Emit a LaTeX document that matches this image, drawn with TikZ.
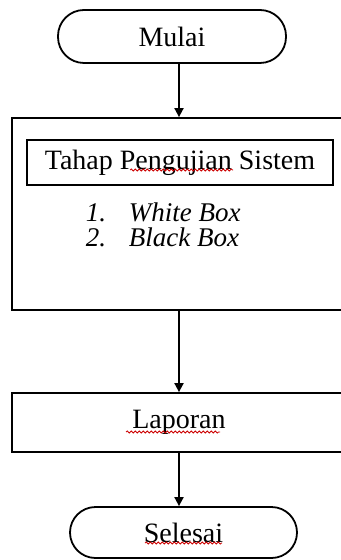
\documentclass[tikz,border=0pt]{standalone}
\usepackage{fontspec}
\setmainfont{Liberation Serif}
\usetikzlibrary{arrows.meta,decorations.pathmorphing}
\begin{document}
\begin{tikzpicture}[x=0.5pt,y=-0.5pt,
  line width=0.9pt,
  txt/.style={font=\fontsize{14}{17}\selectfont},
  listtxt/.style={font=\fontsize{13.5}{16}\selectfont\itshape, inner sep=0pt, anchor=base west},
  term/.style={draw, txt, rounded corners=13pt, inner sep=0pt},
  box/.style={draw, txt, inner sep=0pt},
  arr/.style={-{Triangle[length=4.5pt,width=4.5pt]}},
  spell/.style={draw=red!80!black, line width=0.4pt, decorate, decoration={snake, amplitude=0.5pt, segment length=2pt}}
]
\useasboundingbox (0,0) rectangle (341,560);
\clip (0,0) rectangle (341,560);
\node[term, minimum width=114pt, minimum height=26.5pt] (mulai) at (172,36.5) {Mulai};
\node[box, minimum width=167pt, minimum height=96pt] (uji) at (179,214) {};
\node[box, minimum width=153pt, minimum height=22.5pt] (tahap) at (180,162.5) {Tahap Pengujian Sistem};
\node[listtxt] (n1) at (85,222) {1.};
\node[listtxt] (w1) at (128,222) {White Box};
\node[listtxt] (n2) at (85,247) {2.};
\node[listtxt] (w2) at (128,247) {Black Box};
\node[box, minimum width=167pt, minimum height=29.5pt] (lap) at (179,422.5) {Laporan};
\node[term, minimum width=113.5pt, minimum height=25.5pt, rounded corners=12.75pt] (selesai) at (183.5,532.5) {Selesai};
\draw[arr] (mulai.south -| uji.north) -- (uji.north);
\draw[arr] (uji.south) -- (lap.north);
\draw[arr] (lap.south) -- (lap.south |- selesai.north);
\draw[spell] (130,170) -- (233,170);
\draw[spell] (126,432) -- (220,432);
\draw[spell] (145,543) -- (222,543);
\end{tikzpicture}
\end{document}
